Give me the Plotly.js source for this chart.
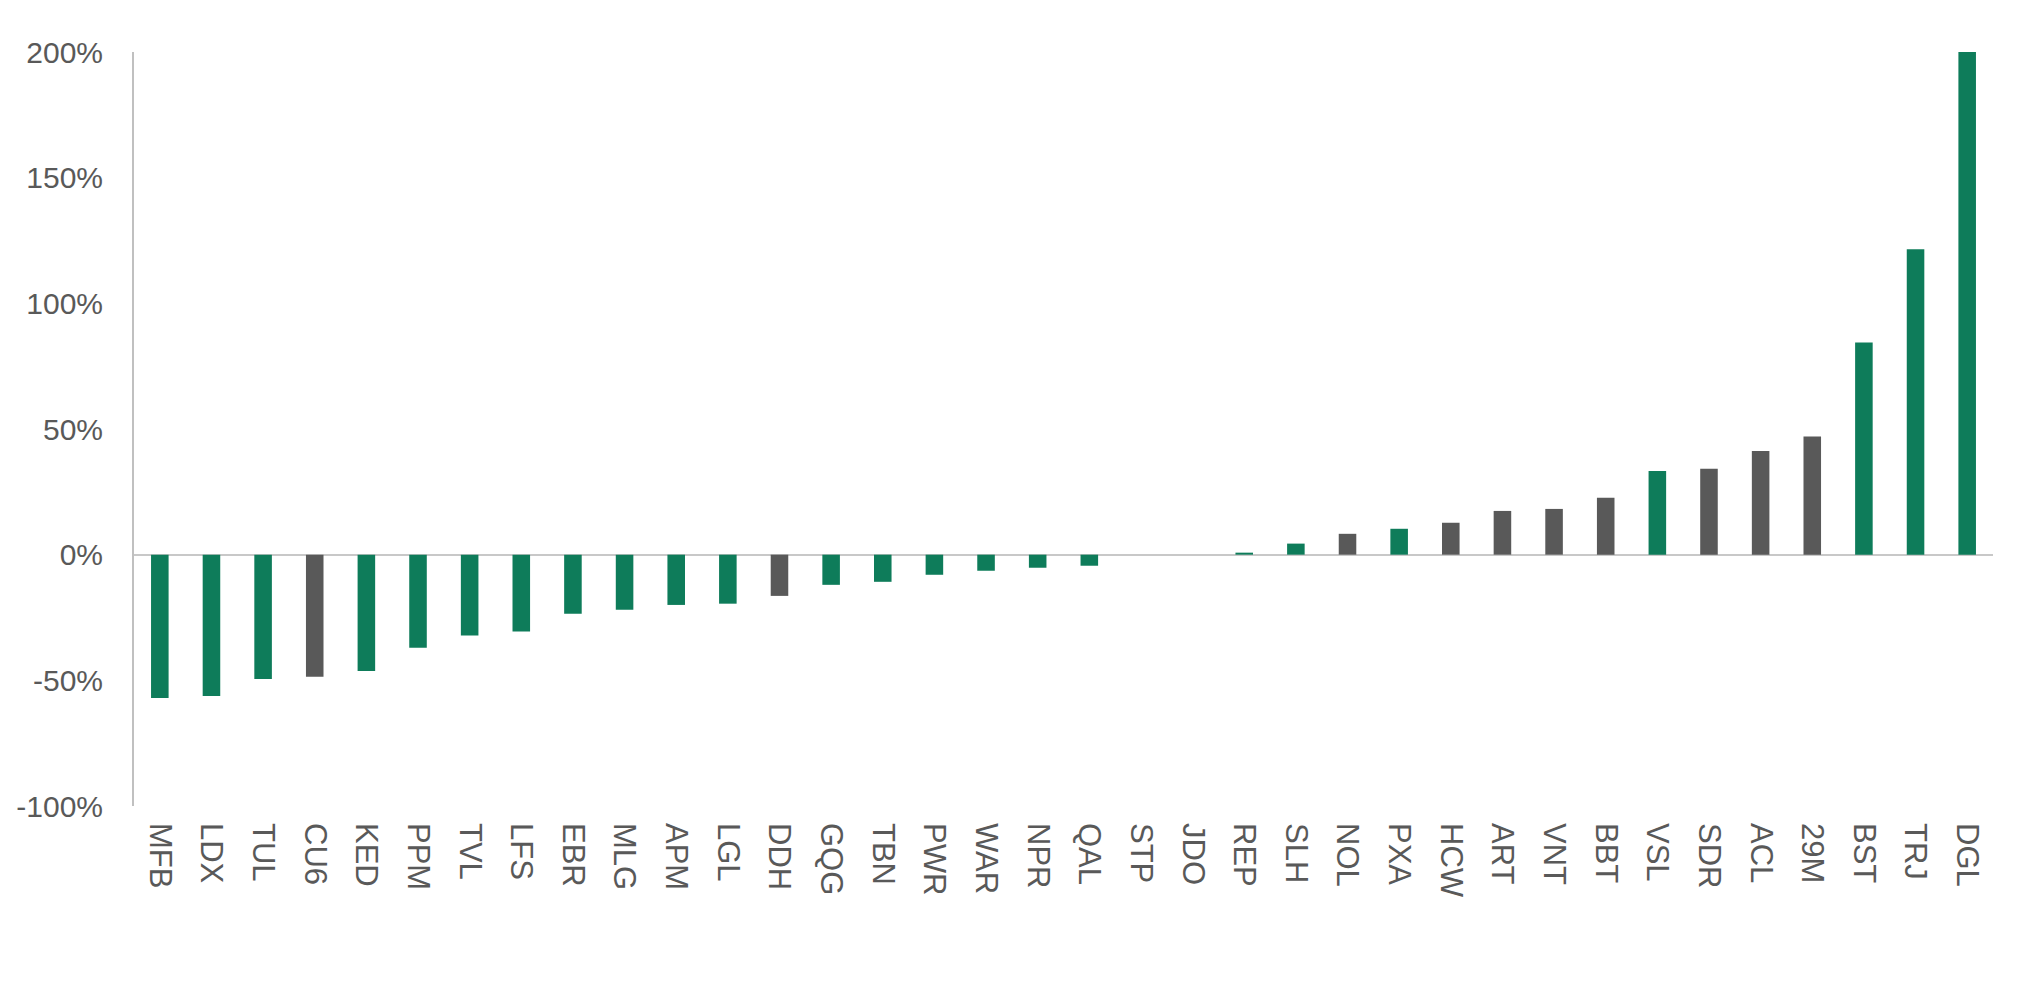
<!DOCTYPE html>
<html>
<head>
<meta charset="utf-8">
<script src="https://cdn.plot.ly/plotly-3.0.1.min.js"></script>
<style>html,body{margin:0;padding:0;background:#fff;}#chart{width:2035px;height:985px;}</style>
</head>
<body>
<div id="chart"></div>
<script>
const categories = ["MFB","LDX","TUL","CU6","KED","PPM","TVL","LFS","EBR","MLG","APM","LGL","DDH","GQG","TBN","PWR","WAR","NPR","QAL","STP","JDO","REP","SLH","NOL","PXA","HCW","ART","VNT","BBT","VSL","SDR","ACL","29M","BST","TRJ","DGL"];
const values = [-57.0,-56.2,-49.5,-48.6,-46.3,-37.0,-32.2,-30.6,-23.5,-21.9,-20.0,-19.5,-16.4,-12.0,-10.8,-8.0,-6.4,-5.2,-4.4,0,0,0.8,4.4,8.3,10.3,12.7,17.4,18.2,22.6,33.3,34.2,41.2,47.0,84.4,121.5,200];
const groups = ["a","a","a","b","a","a","a","a","a","a","a","a","b","a","a","a","a","a","a","a","a","a","a","b","a","b","b","b","b","a","b","b","b","a","a","a"];
const yTickVals = [-100,-50,0,50,100,150,200];
const yTickText = ["-100%","-50%","0%","50%","100%","150%","200%"];

const palette = {a:"#0E7C5A", b:"#595959"};
const colors = groups.map(g => palette[g]);

const trace = {
  type: "bar",
  x: categories,
  y: values,
  marker: {color: colors, line: {width: 0}},
  hoverinfo: "x+y"
};

const layout = {
  width: 2035,
  height: 985,
  margin: {l: 134, r: 42, t: 52, b: 179},
  paper_bgcolor: "#ffffff",
  plot_bgcolor: "#ffffff",
  bargap: 0.66,
  showlegend: false,
  font: {family: "Liberation Sans, Arial, sans-serif", color: "#595959"},
  xaxis: {
    type: "category",
    tickangle: 90,
    showgrid: false,
    showline: false,
    ticks: "",
    ticklabelstandoff: 16,
    tickfont: {size: 31, color: "#595959"}
  },
  yaxis: {
    range: [-100, 200],
    tickvals: yTickVals,
    ticktext: yTickText,
    showgrid: false,
    zeroline: true,
    zerolinecolor: "#c8c8c8",
    zerolinewidth: 2,
    showline: true,
    linecolor: "#c0c0c0",
    linewidth: 2,
    ticks: "",
    ticklabelstandoff: 23,
    tickfont: {size: 30, color: "#595959"}
  }
};

Plotly.newPlot("chart", [trace], layout, {displayModeBar: false, staticPlot: true});
</script>
</body>
</html>
